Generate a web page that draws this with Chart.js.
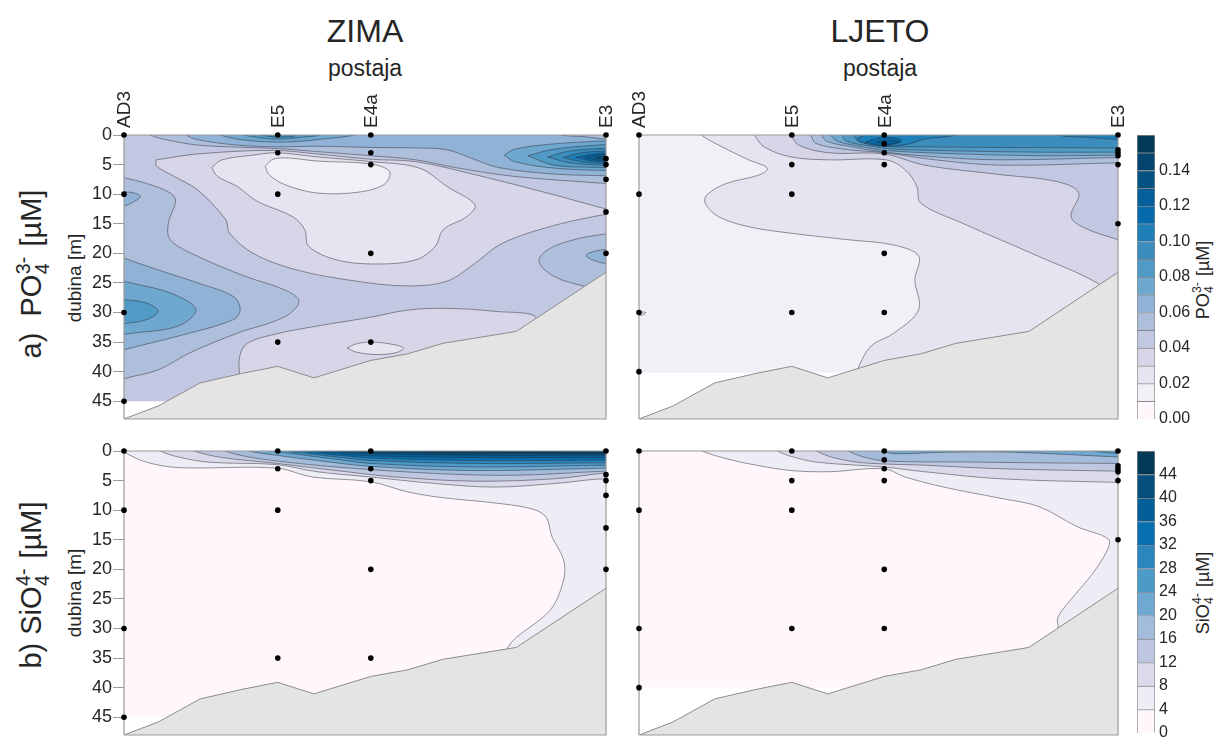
<!DOCTYPE html>
<html>
<head>
<meta charset="utf-8">
<title>ZIMA / LJETO</title>
<script src="https://cdn.jsdelivr.net/npm/chart.js@4"></script>
<style>
  html, body { margin: 0; padding: 0; background: #fff; }
  body { width: 1219px; height: 738px; position: relative; overflow: hidden;
         font-family: "Liberation Sans", Arial, sans-serif; color: #262626; }
  canvas { position: absolute; }
  .t { position: absolute; white-space: nowrap; transform: translate(-50%, -50%); line-height: 1; }
  .r { transform: translate(-50%, -50%) rotate(-90deg); }
  .ion { display: inline-block; vertical-align: middle; font-size: .68em; line-height: .95; text-align: left; margin: 0 .1em 0 .02em; }
  .ion span { display: block; }
</style>
</head>
<body>
<div class="t" style="left:365px;top:31px;font-size:32px">ZIMA</div>
<div class="t" style="left:880px;top:31px;font-size:32px">LJETO</div>
<div class="t" style="left:365px;top:68px;font-size:23px">postaja</div>
<div class="t" style="left:880px;top:68px;font-size:23px">postaja</div>
<div class="t r" style="left:33px;top:274px;font-size:29px">a)&nbsp; PO<span class="ion"><span>3-</span><span>4</span></span> [µM]</div>
<div class="t r" style="left:33px;top:585px;font-size:29px">b) SiO<span class="ion"><span>4-</span><span>4</span></span> [µM]</div>
<div class="t r" style="left:74px;top:278px;font-size:19px">dubina [m]</div>
<div class="t r" style="left:74px;top:593px;font-size:19px">dubina [m]</div>
<div class="t r" style="left:1204px;top:280px;font-size:18px">PO<span class="ion"><span>3-</span><span>4</span></span> [µM]</div>
<div class="t r" style="left:1204px;top:593px;font-size:18px">SiO<span class="ion"><span>4-</span><span>4</span></span> [µM]</div>

<canvas id="zimaPo"></canvas>
<canvas id="ljetoPo"></canvas>
<canvas id="zimaSi"></canvas>
<canvas id="ljetoSi"></canvas>
<canvas id="barPo"></canvas>
<canvas id="barSi"></canvas>

<script>
/* ---- tick labels and stations ---- */
var stationNames = ["AD3", "E5", "E4a", "E3"];
var stationX = [0, 31.9, 51.2, 100];
var depthTicks = [0, 5, 10, 15, 20, 25, 30, 35, 40, 45];
var poTicks = [0, 0.02, 0.04, 0.06, 0.08, 0.10, 0.12, 0.14];
var siTicks = [0, 4, 8, 12, 16, 20, 24, 28, 32, 36, 40, 44];

/* sampling depths per station: AD3, E5, E4a, E3 */
var zimaDepths = [[0, 10, 30, 45], [0, 3, 10, 35], [0, 3, 5, 20, 35], [0, 4, 5, 7.5, 13, 20]];
var ljetoDepths = [[0, 10, 30, 40], [0, 5, 10, 30], [0, 1.5, 3, 5, 20, 30], [0, 2.5, 3, 3.5, 5, 15]];

/* sea floor */
var seabedX = [0, 7.1, 15.8, 24.4, 31.9, 39.4, 51.2, 58.8, 66.2, 81.4, 100];
var seabedY = [48, 45.8, 41.9, 40.3, 39.1, 41.05, 38.1, 37, 35.2, 33.2, 23.2];

/* colour classes */
var poLevels = [0, 0.01, 0.02, 0.03, 0.04, 0.05, 0.06, 0.07, 0.08, 0.09, 0.10, 0.11, 0.12, 0.13, 0.14, 0.15, 0.16];
var poColors = ["#fff7fb", "#f2eff6", "#e6e4f0", "#d6d6e8", "#c3c8e2", "#aebfdc", "#8fb2d6", "#6ea8cf",
                "#519ac5", "#3a8dbd", "#1f7fb8", "#056bab", "#045f9b", "#045383", "#03456f", "#023858"];
var siLevels = [0, 4, 8, 12, 16, 20, 24, 28, 32, 36, 40, 44, 48];
var siColors = ["#fff7fb", "#eeecf5", "#dadaeb", "#c0c8e1", "#a3bcdc", "#6fa9d2",
                "#4c9ac8", "#2b86bd", "#0670b0", "#045f98", "#044f7e", "#023858"];

/* water column lower limit (deepest sample) */
var waterBottom = { zimaPo: 45, ljetoPo: 40.2, zimaSi: 45, ljetoSi: 40 };

/* contours: [class, outline] with x in % of the section and y in m,
   painted in this order; outlines run past the frame where a class meets the edge */
var zimaPoContours = [
  [5, [[-2,6.7],[0,7.2],[4.7,8.2],[9.6,9.8],[10.7,11.2],[9.2,14.9],[9.6,17.7],[15.3,20.5],[25.2,23.9],[33.4,26.2],[36.3,28.1],[33.4,30.7],[23.5,33.5],[13.7,36.8],[7.1,39.7],[0,41.2],[-2,42]]],
  [6, [[-2,9.4],[0,9.6],[2.2,9.8],[3.4,10.4],[1.8,11.4],[0,12],[-2,12.2]]],
  [6, [[-2,20],[0,20.8],[7.1,22.8],[15.3,25],[22.7,27.3],[24.1,29.5],[22.7,31.2],[11.2,34],[0,36.3],[-2,37]]],
  [7, [[-2,24],[0,24.7],[9.6,26.7],[14.9,29.5],[11.2,32.3],[0,33.7],[-2,34.2]]],
  [8, [[-2,27.6],[0,27.8],[4.7,28.4],[7.1,29.8],[4.7,31.2],[0,31.9],[-2,32.1]]],
  [5, [[4.5,-1],[5.5,0],[8.8,0.8],[15.3,1.7],[25.2,2.1],[31.9,2.3],[40,2.8],[51.2,3.5],[60.5,4.2],[68.7,5.5],[81,7],[100,8.2],[103,8.4],[103,-3],[4.5,-3]]],
  [6, [[11.5,-1],[12.9,0],[15.3,0.8],[23.5,1.7],[31.9,2],[40,1.9],[51.2,2.1],[61.3,2.2],[67,2.5],[72,3.9],[77.7,5.5],[89.2,6.6],[100,6.9],[103,7],[103,-3],[11.5,-3]]],
  [5, [[90,-0.6],[90.8,0],[95.7,0.3],[100,0.7],[103,0.9],[103,-2],[90,-2]]],
  [7, [[18.6,-0.3],[23.5,0.7],[31.9,1.2],[40,0.8],[48.2,-0.3],[32,-3]]],
  [8, [[23.5,-0.2],[27.6,0.4],[31.9,0.7],[36.7,0.4],[40.8,-0.2],[32,-3]]],
  [9, [[27.6,-0.1],[31.9,0.35],[35.8,-0.1],[32,-3]]],
  [3, [[6.7,4.2],[15.3,3.2],[30.9,2.6],[40,3.2],[51.2,4.1],[60.5,4.5],[72.8,6.7],[89.2,10.1],[100,12.5],[103,12.9],[103,13.2],[100,13.4],[89.2,15.3],[78.5,18.3],[72.8,21.7],[67,24.7],[58.8,25.5],[48.2,24.7],[35.8,22.8],[26.8,20],[21.9,16.6],[21.1,14.3],[15.3,9.3],[10.4,7],[6.7,5.2]]],
  [2, [[18.2,5.5],[20.3,4.2],[26.8,3.4],[31.7,3],[40,3.7],[51.2,4.5],[61.3,5.6],[67,8.7],[72.8,11.8],[71.1,13.8],[66.2,16],[64.6,18.8],[60.5,21.1],[52.3,21.8],[44.1,21.1],[38.3,18.8],[37.5,16],[35,13.8],[27.6,11.2],[23.5,8.7],[19.4,7]]],
  [1, [[29.3,5.3],[30.9,4.1],[34.2,3.9],[40,4.4],[51.2,4.9],[55.1,6.2],[53.9,8.4],[48.2,9.7],[40,9.8],[33.4,8.4],[30.1,6.7]]],
  [3, [[24,41.3],[24,37.4],[25.6,35.2],[31.7,33.6],[40,32.3],[51.2,30.8],[58.8,29.6],[67,29.3],[76.9,29.8],[85.5,30.9],[80,36],[50,42]]],
  [2, [[46.3,36],[48.2,35.3],[51.2,35],[55.1,35.3],[58,36],[56.4,36.8],[52.3,37.1],[48.2,36.7]]],
  [5, [[103,16.5],[100,16.7],[93.3,17.7],[87.9,19.4],[86.1,21.4],[89.2,23.9],[95.7,25.6],[103,27]]],
  [6, [[103,19.1],[100,19.3],[96.6,19.9],[95.9,20.5],[98.2,21.4],[100,21.7],[103,21.9]]],
  [7, [[78.9,3.4],[81,2.4],[89.2,1.5],[100,1],[103,1],[103,6],[100,6],[89.2,5.6],[81,4.5]]],
  [8, [[83.8,3.5],[89.2,2.4],[100,1.6],[103,1.6],[103,5.5],[100,5.5],[89.2,5.1]]],
  [9, [[87.9,3.7],[92.5,2.7],[100,2.25],[103,2.25],[103,5.1],[100,5.1],[92.5,4.7]]],
  [10, [[91.2,3.8],[94.9,3],[100,2.7],[103,2.7],[103,4.8],[100,4.8],[94.9,4.5]]],
  [11, [[93.7,3.8],[96.6,3.3],[100,3],[103,3],[103,4.6],[100,4.6],[96.6,4.3]]],
  [12, [[95.7,3.8],[98,3.4],[100,3.3],[103,3.3],[103,4.4],[100,4.4],[98,4.2]]],
  [13, [[97.7,3.8],[100,3.5],[103,3.5],[103,4.2],[100,4.2]]]
];

var ljetoPoContours = [
  [2, [[-2,29.8],[0,29.9],[1.4,30],[0.8,30.4],[0,30.5],[-2,30.6]]],
  [2, [[12.2,-1],[13,0],[16.6,1.7],[22.9,4.2],[26.8,5.6],[25.3,6.7],[18.2,8.2],[14.2,10.1],[13.8,11.5],[16.6,13.8],[22.9,15.5],[31.7,16.6],[43.6,17.7],[53.2,18.6],[58.4,20.5],[57.6,24.5],[58.4,29.5],[53.2,33.5],[48.4,35.7],[45.6,39.7],[45,42],[60,42],[103,30],[103,-3],[12,-3]]],
  [3, [[23.5,-1],[24.1,0],[26.1,2],[31.7,3.7],[39.6,4.2],[51.6,4.2],[55.6,5.9],[58,8.7],[58.8,11.5],[67.5,14.9],[83.4,20.5],[95.8,25.1],[99,28],[103,28],[103,-3],[24,-3]]],
  [4, [[31.5,-1],[31.8,0],[33.3,1.7],[39.6,3],[51.2,3.2],[59.6,5.1],[75.5,6.7],[87.4,7.9],[91.8,9.8],[90.2,13.8],[93,15.7],[100,17.7],[103,18.5],[103,-3],[31.5,-3]]],
  [5, [[35.6,-1],[35.9,0],[36.9,1.4],[42.8,2.4],[51.2,3],[61.9,4.2],[75.5,5.1],[100,4.7],[103,4.7],[103,-3],[35.6,-3]]],
  [6, [[37.9,-1],[38.1,0],[39.3,1.1],[45.2,2.1],[51.2,2.9],[61.9,3.7],[75.5,4.2],[100,3.8],[103,3.8],[103,-3],[38,-3]]],
  [7, [[39.8,-1],[40,0],[41.6,1.1],[46.8,2],[51.2,2.6],[63.5,3.1],[83.4,3.5],[100,3.4],[103,3.4],[103,-3],[40,-3]]],
  [8, [[42.2,-1],[42.4,0],[43.2,1],[48.4,1.9],[53.2,2.4],[67.5,2.7],[83.4,2.9],[100,2.9],[103,2.9],[103,-3],[42,-3]]],
  [9, [[44.6,-1],[44.8,0],[46,1.1],[50.8,1.9],[59.6,2],[75.5,2.1],[100,2.2],[103,2.2],[103,-3],[44.6,-3]]],
  [10, [[68,-1],[66.3,0],[59.6,0.7],[56.4,1.5],[51.6,1.9],[47.6,1.5],[45.6,0.7],[46.8,0],[46,-1],[46,-3],[68,-3]]],
  [10, [[87,-1],[87.4,0],[93.8,0.4],[100,0.75],[103,0.75],[103,-3],[87,-3]]],
  [11, [[47.2,1.2],[50.8,0.4],[54.8,0.85],[51.6,1.8]]],
  [12, [[49.6,1.2],[51.6,0.85],[54.6,1.2],[51.6,1.6]]]
];

var zimaSiContours = [
  [1, [[-0.5,-0.3],[0.6,0.45],[4.7,1.9],[11.2,2.8],[31.7,2.9],[39.1,4.4],[51.2,5.2],[58.8,6.9],[66.2,7.9],[76,8.7],[84.2,9.7],[87.5,11.1],[88.8,14.5],[91.2,18.4],[91.2,21.8],[88.4,26.9],[79.7,33.1],[82,36],[103,36],[103,-3],[0,-3]]],
  [2, [[6.9,-0.5],[7.5,0],[11.2,1],[17.8,1.9],[31.7,2.3],[40,3.5],[51.2,4.4],[64.6,5.5],[76.9,6.1],[89.2,5.5],[97.4,4.8],[100,4.7],[103,4.7],[103,-3],[7,-3]]],
  [3, [[14,-0.5],[14.5,0],[20.3,1.1],[31.7,2.1],[44,3.3],[56.4,4.4],[72.8,5.1],[89.2,4.7],[100,3.7],[103,3.7],[103,-3],[14,-3]]],
  [4, [[20.5,-0.5],[21,0],[25.2,0.9],[31.9,1.7],[44,2.7],[64.6,3.8],[81,4.1],[100,3.4],[103,3.4],[103,-3],[20.5,-3]]],
  [5, [[25.5,-0.5],[26,0],[30.1,0.55],[40,1.6],[51.2,2.6],[72.8,3.3],[100,2.9],[103,2.9],[103,-3],[25.5,-3]]],
  [6, [[30.5,-0.5],[31,0],[35,0.45],[45,1.5],[51.2,2.1],[72,2.7],[100,2.4],[103,2.4],[103,-3],[30.5,-3]]],
  [7, [[33.5,-0.5],[34,0],[38,0.45],[45,1.1],[51.2,1.6],[72,2.1],[100,2],[103,2],[103,-3],[33.5,-3]]],
  [8, [[36.5,-0.5],[37,0],[41,0.45],[47,0.9],[51.2,1.2],[72,1.6],[100,1.55],[103,1.55],[103,-3],[36.5,-3]]],
  [9, [[39.5,-0.5],[40,0],[44,0.4],[51.2,0.8],[72,1.1],[100,1.1],[103,1.1],[103,-3],[39.5,-3]]],
  [10, [[43.5,-0.5],[44,0],[48,0.3],[52,0.45],[72,0.7],[100,0.7],[103,0.7],[103,-3],[43.5,-3]]],
  [11, [[48.5,-0.5],[49,0],[53,0.15],[72,0.3],[100,0.35],[103,0.35],[103,-3],[48.5,-3]]]
];

var ljetoSiContours = [
  [1, [[12.5,-0.6],[13.2,0],[18.2,1.3],[24.5,2.4],[31.7,3.3],[39.7,3.5],[51.1,3],[55.6,4.4],[63.6,6.1],[75.5,8],[83.5,9.4],[91.5,12.8],[98,14.9],[97.8,16.7],[94.7,20.7],[90.7,24.6],[87.5,28],[87.5,29.8],[88,33],[103,33],[103,-3],[13,-3]]],
  [2, [[28.2,-0.6],[28.9,0],[31.7,0.9],[37.3,1.9],[51.1,2.7],[59.6,3.5],[75.5,4.7],[100,5.3],[103,5.3],[103,-3],[28.5,-3]]],
  [3, [[36.4,-0.6],[37.1,0],[40.5,1.1],[46.9,2],[59.6,2.4],[75.5,3],[100,3.4],[103,3.4],[103,-3],[36.5,-3]]],
  [4, [[43,-0.6],[43.7,0],[46.9,1],[51.6,1.7],[67.6,1.85],[83.5,2],[100,2.1],[103,2.1],[103,-3],[43,-3]]],
  [5, [[50.5,-0.6],[51,0],[53.5,0.45],[64,0.2],[78,0.2],[100,1],[103,1],[103,-3],[50.5,-3]]],
  [6, [[94.5,-0.4],[95,0],[100,0.4],[103,0.4],[103,-3],[94.5,-3]]]
];

/* ---- shared styling ---- */
var FONT = "'Liberation Sans', Arial, sans-serif";
var TEXT = "#262626";
var FRAME = "#9a9a9a";
var CONTOUR = "rgba(45,45,50,0.62)";
var SEABED = "#e4e4e4";

function pts(list) {
  return list.map(function (p) { return { x: p[0], y: p[1] }; });
}

function polygon(list, color, line, width, tension) {
  var closed = list.concat([list[0]]);
  return {
    data: pts(closed), showLine: true, fill: "shape", backgroundColor: color,
    borderColor: line, borderWidth: width, pointRadius: 0, tension: tension, clip: 0
  };
}

// scale label overhang must not move the plot area
function noPad(s) { s.paddingLeft = s.paddingRight = s.paddingTop = s.paddingBottom = 0; }

function panelDatasets(contours, colors, bottom, depths) {
  var sets = [];
  // water column first, everything else is painted over it
  sets.push(polygon([[-3, -3], [103, -3], [103, bottom], [-3, bottom]], colors[contours.baseClass], "rgba(0,0,0,0)", 0, 0));
  contours.forEach(function (c) {
    sets.push(polygon(c[1], colors[c[0]], CONTOUR, 0.8, 0.35));
  });
  var bed = seabedX.map(function (x, i) { return [x, seabedY[i]]; });
  bed = bed.concat([[103, seabedY[seabedY.length - 1]], [103, 52], [-3, 52], [-3, 48]]);
  sets.push(polygon(bed, SEABED, "#8c8c8c", 1, 0));
  // frame
  sets.push({
    data: pts([[0, 48], [0, 0], [100, 0], [100, 48], [0, 48]]), showLine: true, fill: false,
    borderColor: FRAME, borderWidth: 1.2, pointRadius: 0, tension: 0, clip: false
  });
  // sampling points
  var samples = [];
  depths.forEach(function (list, i) {
    list.forEach(function (d) { samples.push([stationX[i], d]); });
  });
  sets.push({
    data: pts(samples), showLine: false, pointRadius: 2.8, pointBackgroundColor: "#000",
    pointBorderWidth: 0, clip: false
  });
  // chart.js paints the lowest order last
  sets.forEach(function (s, i) { s.order = sets.length - i; });
  return sets;
}

function makePanel(id, box, contours, baseClass, colors, bottom, depths, showDepth, showStations) {
  var canvas = document.getElementById(id);
  canvas.width = box.w; canvas.height = box.h;
  canvas.style.left = box.x + "px"; canvas.style.top = box.y + "px";
  contours.baseClass = baseClass;
  new Chart(canvas.getContext("2d"), {
    type: "scatter",
    data: { datasets: panelDatasets(contours, colors, bottom, depths) },
    options: {
      responsive: false, animation: false, devicePixelRatio: 1,
      layout: { padding: { left: showDepth ? 0 : box.pad, right: 6, bottom: 6, top: 0 } },
      elements: { line: { capBezierPoints: false } },
      plugins: { legend: { display: false }, tooltip: { enabled: false } },
      scales: {
        x: {
          type: "linear", position: "top", min: 0, max: 100,
          grid: { display: false, drawTicks: false },
          border: { display: false },
          afterBuildTicks: function (s) { s.ticks = stationX.map(function (v) { return { value: v }; }); },
          afterFit: function (s) { s.height = box.head; noPad(s); },
          ticks: {
            autoSkip: false, minRotation: 90, maxRotation: 90, padding: 7, labelOffset: 24, color: TEXT,
            font: { family: FONT, size: 19 },
            callback: function (v, i) { return showStations ? stationNames[i] : ""; }
          }
        },
        y: {
          type: "linear", reverse: true, min: 0, max: 48, display: showDepth,
          grid: { drawOnChartArea: false, color: FRAME, tickLength: 11 },
          border: { display: false },
          afterBuildTicks: function (s) { s.ticks = depthTicks.map(function (v) { return { value: v }; }); },
          afterFit: function (s) { s.width = box.side; noPad(s); },
          ticks: { padding: 1, color: TEXT, autoSkip: false, font: { family: FONT, size: 18 } }
        }
      }
    }
  });
}

function makeBar(id, box, levels, colors, ticks, digits) {
  var canvas = document.getElementById(id);
  canvas.width = box.w; canvas.height = box.h;
  canvas.style.left = box.x + "px"; canvas.style.top = box.y + "px";
  var sets = colors.map(function (c, i) {
    return {
      data: [[levels[i], levels[i + 1]]], backgroundColor: c,
      borderColor: "rgba(60,60,65,0.6)", borderWidth: 1,
      grouped: false, barPercentage: 1, categoryPercentage: 1
    };
  });
  new Chart(canvas.getContext("2d"), {
    type: "bar",
    data: { labels: [""], datasets: sets },
    options: {
      responsive: false, animation: false, devicePixelRatio: 1,
      layout: { padding: { left: box.pad, top: box.top, bottom: box.bottom, right: 0 } },
      plugins: { legend: { display: false }, tooltip: { enabled: false } },
      scales: {
        x: { display: false },
        y: {
          position: "right", min: levels[0], max: levels[levels.length - 1],
          grid: { display: false, drawTicks: false }, border: { display: false },
          afterBuildTicks: function (s) { s.ticks = ticks.map(function (v) { return { value: v }; }); },
          afterFit: function (s) { s.width = box.side; noPad(s); },
          ticks: {
            padding: 4, color: TEXT, autoSkip: false, font: { family: FONT, size: 16 },
            callback: function (v) { return v.toFixed(digits); }
          }
        }
      }
    }
  });
}

/* ---- boot ---- */
var topBox = { x: 60, y: 70, w: 552, h: 355, side: 64, head: 65, pad: 0 };
var topRight = { x: 629, y: 70, w: 495, h: 355, side: 0, head: 65, pad: 10 };
var lowBox = { x: 60, y: 430, w: 552, h: 311, side: 64, head: 21, pad: 0 };
var lowRight = { x: 629, y: 430, w: 495, h: 311, side: 0, head: 21, pad: 10 };

makePanel("zimaPo", topBox, zimaPoContours, 4, poColors, waterBottom.zimaPo, zimaDepths, true, true);
makePanel("ljetoPo", topRight, ljetoPoContours, 1, poColors, waterBottom.ljetoPo, ljetoDepths, false, true);
makePanel("zimaSi", lowBox, zimaSiContours, 0, siColors, waterBottom.zimaSi, zimaDepths, true, false);
makePanel("ljetoSi", lowRight, ljetoSiContours, 0, siColors, waterBottom.ljetoSi, ljetoDepths, false, false);

makeBar("barPo", { x: 1127, y: 125, w: 75, h: 310, pad: 10, top: 10, bottom: 16, side: 47 }, poLevels, poColors, poTicks, 2);
makeBar("barSi", { x: 1127, y: 441, w: 75, h: 297, pad: 10, top: 10, bottom: 5, side: 47 }, siLevels, siColors, siTicks, 0);
</script>
</body>
</html>
